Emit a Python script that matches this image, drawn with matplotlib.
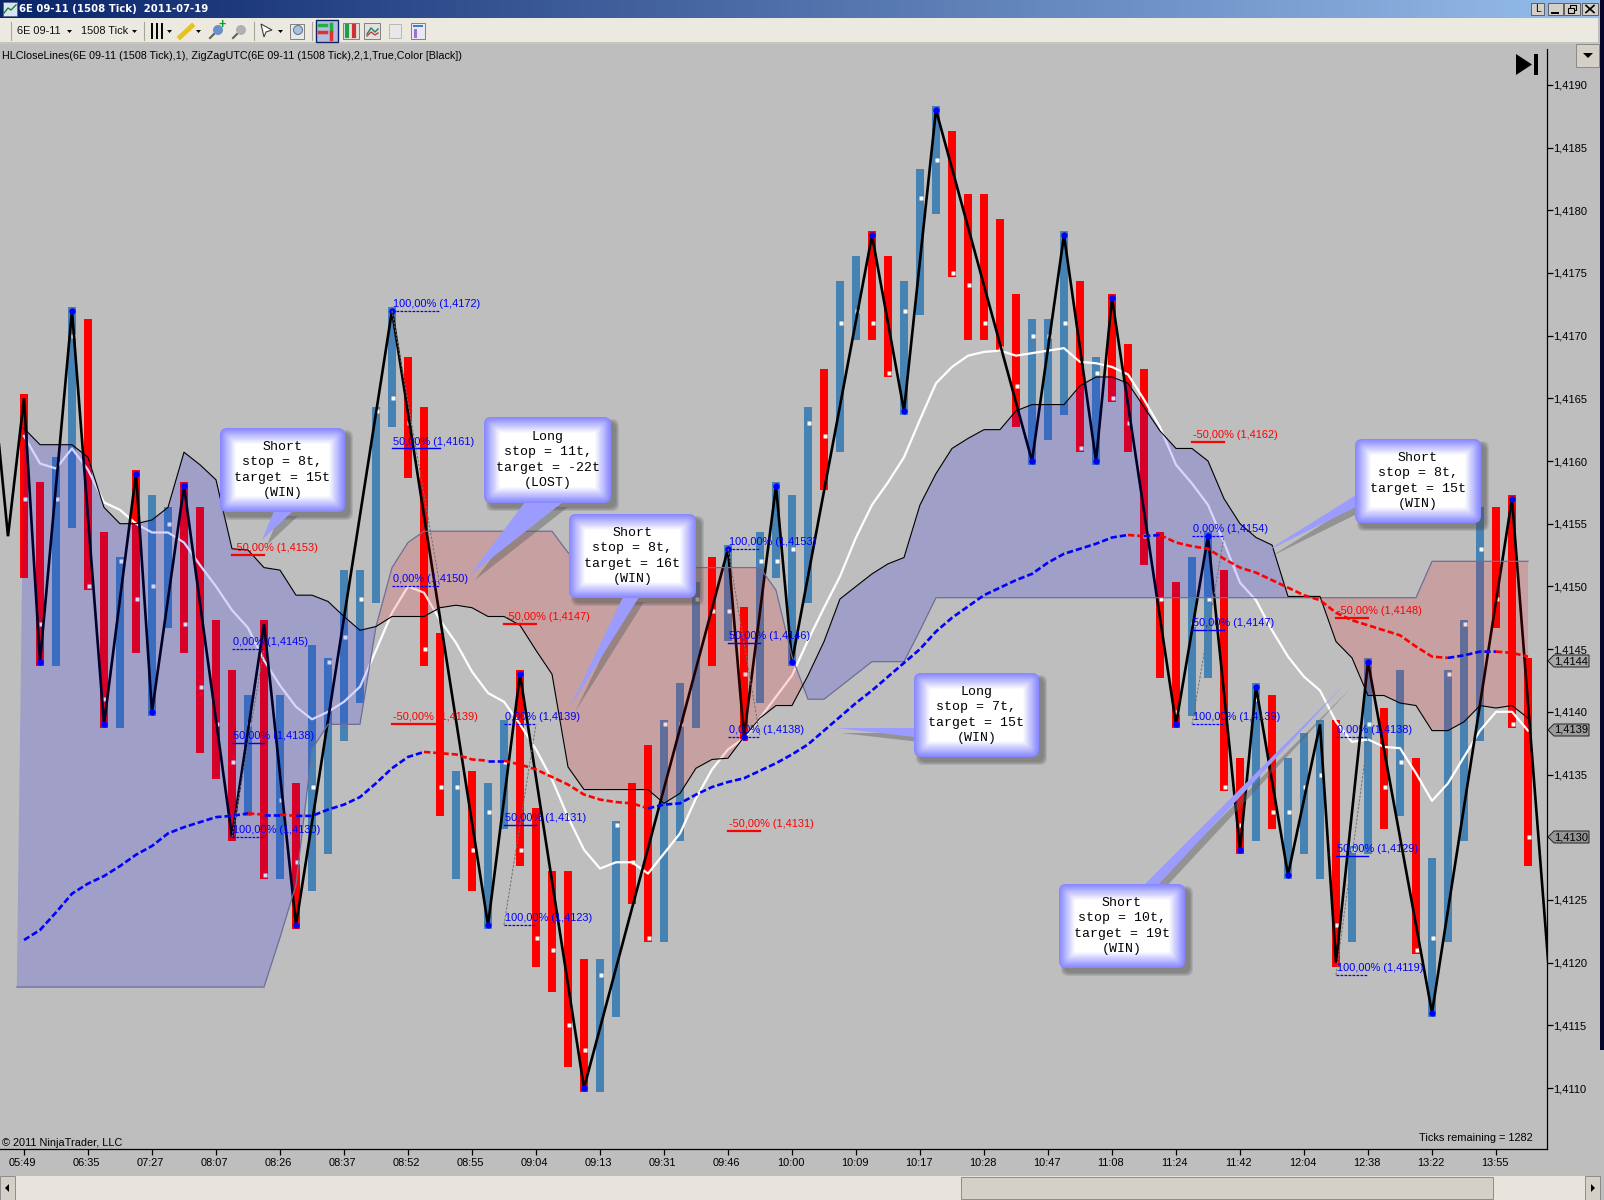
import numpy as np
import matplotlib
matplotlib.use('Agg')
import matplotlib.pyplot as plt
from matplotlib.patches import Circle, FancyBboxPatch, Polygon, Rectangle
from matplotlib.transforms import ScaledTranslation

# =========================================================
# DATA
# =========================================================
time_labels = ['05:49', '06:35', '07:27', '08:07', '08:26', '08:37', '08:52', '08:55',
               '09:04', '09:13', '09:31', '09:46', '10:00', '10:09', '10:17', '10:28',
               '10:47', '11:08', '11:24', '11:42', '12:04', '12:38', '13:22', '13:55']
price_ticks = [1.4110, 1.4115, 1.4120, 1.4125, 1.4130, 1.4135, 1.4140, 1.4145, 1.4150,
               1.4155, 1.4160, 1.4165, 1.4170, 1.4175, 1.4180, 1.4185, 1.4190]

bar_dir = list('rrbbrrbrbbrrrrbrbrbbbbbbrrrbrbbrrrrrbbrrbbbrbrbbbbrbbrrbbbrrrrrbbbrbrrrrrbbrrbrbbbrbbrbrbbbbrrr')
bar_high = [1.4165, 1.4158, 1.4160, 1.4172, 1.4171, 1.4154, 1.4152, 1.4159, 1.4157, 1.4156,
            1.4158, 1.4156, 1.4147, 1.4143, 1.4141, 1.4147, 1.4141, 1.4134, 1.4145, 1.4144,
            1.4151, 1.4151, 1.4164, 1.4172, 1.4168, 1.4164, 1.4146, 1.4135, 1.4135, 1.4134,
            1.4139, 1.4143, 1.4132, 1.4127, 1.4127, 1.4120, 1.4120, 1.4131, 1.4134, 1.4137,
            1.4139, 1.4142, 1.4150, 1.4152, 1.4153, 1.4148, 1.4154, 1.4158, 1.4157, 1.4164,
            1.4167, 1.4174, 1.4176, 1.4178, 1.4176, 1.4174, 1.4183, 1.4188, 1.4186, 1.4181,
            1.4181, 1.4179, 1.4173, 1.4171, 1.4171, 1.4178, 1.4174, 1.4168, 1.4173, 1.4169,
            1.4167, 1.4154, 1.4150, 1.4152, 1.4154, 1.4151, 1.4136, 1.4142, 1.4141, 1.4136,
            1.4138, 1.4139, 1.4139, 1.4129, 1.4144, 1.4140, 1.4143, 1.4136, 1.4128, 1.4143,
            1.4147, 1.4156, 1.4156, 1.4157, 1.4144]
bar_low = [1.4151, 1.4144, 1.4144, 1.4155, 1.4150, 1.4139, 1.4139, 1.4145, 1.4140, 1.4147,
           1.4145, 1.4137, 1.4135, 1.4130, 1.4132, 1.4127, 1.4127, 1.4123, 1.4126, 1.4129,
           1.4138, 1.4141, 1.4149, 1.4163, 1.4159, 1.4144, 1.4132, 1.4127, 1.4126, 1.4123,
           1.4131, 1.4128, 1.4120, 1.4118, 1.4112, 1.4110, 1.4110, 1.4116, 1.4125, 1.4122,
           1.4122, 1.4130, 1.4139, 1.4144, 1.4146, 1.4138, 1.4141, 1.4151, 1.4144, 1.4149,
           1.4158, 1.4161, 1.4170, 1.4170, 1.4167, 1.4164, 1.4172, 1.4180, 1.4175, 1.4170,
           1.4170, 1.4169, 1.4163, 1.4160, 1.4162, 1.4164, 1.4161, 1.4160, 1.4165, 1.4161,
           1.4152, 1.4143, 1.4139, 1.4140, 1.4143, 1.4134, 1.4129, 1.4130, 1.4131, 1.4127,
           1.4129, 1.4127, 1.4120, 1.4122, 1.4129, 1.4131, 1.4132, 1.4121, 1.4116, 1.4122,
           1.4130, 1.4138, 1.4147, 1.4139, 1.4128]
bar_close = [1.4157, 1.4147, 1.4157, 1.4170, 1.4150, 1.4141, 1.4152, 1.4149, 1.4150, 1.4155,
             1.4147, 1.4142, 1.4139, 1.4136, 1.4139, 1.4127, 1.4133, 1.4128, 1.4134, 1.4144,
             1.4146, 1.4149, 1.4164, 1.4165, 1.4163, 1.4145, 1.4134, 1.4134, 1.4129, 1.4132,
             1.4136, 1.4129, 1.4122, 1.4121, 1.4115, 1.4113, 1.4119, 1.4131, 1.4128, 1.4122,
             1.4139, 1.4139, 1.4149, 1.4148, 1.4148, 1.4143, 1.4152, 1.4152, 1.4153, 1.4163,
             1.4162, 1.4171, 1.4172, 1.4171, 1.4167, 1.4172, 1.4181, 1.4184, 1.4175, 1.4174,
             1.4171, 1.4169, 1.4166, 1.4170, 1.4170, 1.4171, 1.4161, 1.4167, 1.4165, 1.4163,
             1.4154, 1.4149, 1.4140, 1.4147, 1.4149, 1.4134, 1.4131, 1.4141, 1.4132, 1.4132,
             1.4134, 1.4135, 1.4123, 1.4129, 1.4139, 1.4134, 1.4136, 1.4121, 1.4122, 1.4143,
             1.4147, 1.4153, 1.4149, 1.4139, 1.4130]

# zigzag pivots: bar index and price
zig_idx = [-2, -1, 0, 1, 3, 5, 7, 8, 10, 13, 15, 17, 23, 29, 31, 35, 44, 45, 47, 48, 53, 55, 57,
           63, 65, 67, 68, 72, 74, 76, 77, 79, 81, 82, 84, 88, 93, 96]
zig_price = [1.4167, 1.4154, 1.4165, 1.4144, 1.4172, 1.4139, 1.4159, 1.4140, 1.4158, 1.4130,
             1.4147, 1.4123, 1.4172, 1.4123, 1.4143, 1.4110, 1.4153, 1.4138, 1.4158, 1.4144,
             1.4178, 1.4164, 1.4188, 1.4160, 1.4178, 1.4160, 1.4173, 1.4139, 1.4154, 1.4129,
             1.4142, 1.4127, 1.4139, 1.4120, 1.4144, 1.4116, 1.4157, 1.4108]
pivot_dots = [1, 3, 5, 7, 8, 10, 17, 23, 29, 31, 35, 44, 45, 47, 48, 53, 55, 57, 63, 65, 67, 68,
              72, 74, 76, 77, 79, 84, 88, 93]

# lines, in ticks above 1,4110
cloud_a = [52.6, 51.3, 51.3, 51.3, 50.3, 46.3, 45, 45, 45.3, 46.3, 50.7, 49.7, 48.5, 43, 42.9,
           41.5, 41.3, 39.3, 39.3, 38.8, 37.6, 36.5, 36.8, 37.6, 37.6, 37.6, 38.3, 38.5, 38.3,
           37.6, 37.6, 36.9, 34.9, 33, 25.6, 23.8, 23.8, 23.8, 23.8, 23.8, 22.7, 23.5, 25.5,
           26.2, 26.3, 28, 29.5, 30.5, 30.5, 32.9, 35.6, 39, 40, 41, 41.8, 42.3, 46.5, 49, 51,
           51.8, 52.5, 52.5, 54, 54.5, 54.5, 54.5, 56, 56.7, 56.7, 56.2, 54.3, 52.4, 51, 51,
           50, 47, 45, 43.9, 43.3, 39.2, 39.2, 39.2, 35.6, 34.3, 31.3, 31.3, 30.7, 30.5, 28.5,
           28.5, 29.2, 30.5, 30.3, 30.5, 29.5]
cloud_b = [8.05, 8.05, 8.05, 8.05, 8.05, 8.05, 8.05, 8.05, 8.05, 8.05, 8.05, 8.05, 8.05, 8.05,
           8.05, 8.05, 12, 16.2, 27, 29, 29, 29, 36.8, 41.5, 43.5, 44.4, 44.4, 44.4, 44.4, 44.4,
           44.4, 44.4, 44.4, 44.4, 42.7, 41.5, 41.5, 41.5, 41.5, 41.5, 41.5, 41.5, 41.5, 41.5,
           41.5, 41.5, 41.5, 39.7, 34.4, 31, 31, 32, 33, 34, 34, 34, 36.5, 39.1, 39.1, 39.1,
           39.1, 39.1, 39.1, 39.1, 39.1, 39.1, 39.1, 39.1, 39.1, 39.1, 39.1, 39.1, 39.1, 39.1,
           39.1, 39.1, 39.1, 39.1, 39.1, 39.1, 39.1, 39.1, 39.1, 39.1, 39.1, 39.1, 39.1, 39.1,
           42, 42, 42, 42, 42, 42, 42]
white_line = [52, 49.8, 49.4, 51, 49.3, 46.7, 46.1, 45, 44.3, 44.3, 43.5, 41.7, 40, 38.1, 36.7,
              34.1, 32.1, 30.4, 29.4, 30, 30.8, 32, 34.9, 37.9, 40, 39.5, 37.3, 35.5, 33.2, 31.5,
              30.8, 29, 27, 24.6, 21.6, 19, 17.5, 18, 18, 17.1, 18.7, 20.3, 23.1, 25.4, 27, 27.9,
              29.5, 31.2, 32.9, 35.7, 38.3, 40.8, 43.9, 46.5, 48.3, 50.3, 53.3, 56.2, 57.5, 58.4,
              58.7, 58.8, 58.4, 58.6, 58.8, 59, 57.9, 57.8, 57.5, 56.9, 54.9, 52.7, 49.7, 48.2,
              46.5, 43.5, 40.3, 38.9, 36.5, 34.4, 32.8, 31.7, 29.2, 27.6, 27.8, 27.2, 27.1, 25.1,
              22.9, 24.3, 26.4, 28.5, 30, 30, 28.5]
ma_line = [11.8, 12.6, 14, 15.5, 16.3, 16.9, 17.7, 18.6, 19.3, 20.3, 20.8, 21.2, 21.6, 21.7, 21.9,
           21.8, 21.8, 21.7, 21.7, 22.2, 22.6, 23.2, 24.3, 25.5, 26.4, 26.8, 26.7, 26.6, 26.2,
           26.1, 26.1, 25.8, 25.4, 24.8, 24.2, 23.4, 23, 22.8, 22.7, 22.3, 22.6, 22.7, 23.4, 24,
           24.4, 24.7, 25.3, 25.9, 26.6, 27.4, 28.5, 29.6, 30.7, 31.7, 32.8, 33.9, 35, 36.4, 37.5,
           38.4, 39.3, 39.9, 40.5, 41, 41.9, 42.6, 43, 43.4, 43.9, 44.1, 44, 44.1, 43.5, 43.2, 43,
           42.2, 41.5, 41.1, 40.5, 39.9, 39.3, 38.9, 37.9, 37.3, 36.9, 36.5, 36.1, 35.2, 34.4,
           34.3, 34.5, 34.8, 34.8, 34.7, 34.4]

# fib levels: name, printed price, real level, first bar, bars wide
fib_levels = [
    ('-50,00%', '1,4153', 1.41525, 13, 2), ('0,00%', '1,4145', 1.41450, 13, 2),
    ('50,00%', '1,4138', 1.41375, 13, 2), ('100,00%', '1,4130', 1.41300, 13, 2),
    ('100,00%', '1,4172', 1.41720, 23, 3), ('50,00%', '1,4161', 1.41610, 23, 3),
    ('0,00%', '1,4150', 1.41500, 23, 3), ('-50,00%', '1,4139', 1.41390, 23, 3),
    ('-50,00%', '1,4147', 1.41470, 30, 2), ('0,00%', '1,4139', 1.41390, 30, 2),
    ('50,00%', '1,4131', 1.41310, 30, 2), ('100,00%', '1,4123', 1.41230, 30, 2),
    ('100,00%', '1,4153', 1.41530, 44, 2), ('50,00%', '1,4146', 1.41455, 44, 2),
    ('0,00%', '1,4138', 1.41380, 44, 2), ('-50,00%', '1,4131', 1.41305, 44, 2),
    ('-50,00%', '1,4162', 1.41615, 73, 2), ('0,00%', '1,4154', 1.41540, 73, 2),
    ('50,00%', '1,4147', 1.41465, 73, 2), ('100,00%', '1,4139', 1.41390, 73, 2),
    ('-50,00%', '1,4148', 1.41475, 82, 2), ('0,00%', '1,4138', 1.41380, 82, 2),
    ('50,00%', '1,4129', 1.41285, 82, 2), ('100,00%', '1,4119', 1.41190, 82, 2),
]

callout_texts = ['Short\nstop = 8t,\ntarget = 15t\n(WIN)', 'Long\nstop = 11t,\ntarget = -22t\n(LOST)',
                 'Short\nstop = 8t,\ntarget = 16t\n(WIN)', 'Long\nstop = 7t,\ntarget = 15t\n(WIN)',
                 'Short\nstop = 8t,\ntarget = 15t\n(WIN)', 'Short\nstop = 10t,\ntarget = 19t\n(WIN)']

tag_labels = ['1,4144', '1,4139', '1,4130']

# =========================================================
# FIGURE
# =========================================================
W, H = 1604, 1200
BG = '#BEBEBE'
plt.rcParams['font.family'] = ['Liberation Sans', 'DejaVu Sans']

fig = plt.figure(figsize=(W / 100, H / 100), dpi=100, facecolor=BG)

AX_R, AX_T, AX_B = 1546.7, 44, 1149
PX_TICK = 12.54      # pixels per 0,0001
Y_1410 = 1088        # pixel row of 1,4110

ax = fig.add_axes([0, (H - AX_B) / H, AX_R / W, (AX_B - AX_T) / H], facecolor=BG)
ax.set_xlim(-24 / 16, (AX_R - 24) / 16)
ax.set_ylim(1.4110 - (AX_B - Y_1410) / PX_TICK / 1e4, 1.4110 + (Y_1410 - AX_T) / PX_TICK / 1e4)

idx = np.arange(len(bar_high))
BAR_LW = 8 * 0.72
colors = ['#4682B4' if d == 'b' else '#FF0000' for d in bar_dir]
ax.vlines(idx, bar_low, bar_high, colors=colors, linewidth=BAR_LW, capstyle='projecting', zorder=2)
ax.plot(idx + 0.06, bar_close, ls='none', marker='s', ms=3.2, mfc='white', mec='none', zorder=3)


def from_ticks(values):
    return 1.4110 + np.array(values) / 1e4


ax.plot(idx, from_ticks(white_line), color='white', lw=1.6, zorder=4)
ax.plot(zig_idx, zig_price, color='black', lw=1.9, zorder=5, solid_joinstyle='miter')

# cloud over the bars
cx = np.r_[-0.45, idx]
ca = from_ticks([cloud_b[0]] + cloud_a)
cb = from_ticks([cloud_b[0]] + cloud_b)
ax.fill_between(cx, ca, cb, where=ca >= cb, interpolate=True, color='#0000FF', alpha=0.16, lw=0, zorder=6)
ax.fill_between(cx, ca, cb, where=ca <= cb, interpolate=True, color='#FF0000', alpha=0.15, lw=0, zorder=6)
ax.plot(cx, cb, color='#6E6E96', lw=0.9, zorder=6.5)
ax.plot(idx, from_ticks(cloud_a), color='black', lw=0.8, zorder=6.5)

# moving average: blue rising, red falling
ma = from_ticks(ma_line)
seg_up = np.diff(ma) >= 0
start = 0
for k in range(1, len(seg_up) + 1):
    if k == len(seg_up) or seg_up[k] != seg_up[start]:
        ax.plot(idx[start:k + 1], ma[start:k + 1], color='#0000FF' if seg_up[start] else '#FF0000',
                lw=1.9, ls=(0, (2.4, 1.1)), zorder=7)
        start = k

# pivot dots
zig_lookup = dict(zip(zig_idx, zig_price))
ax.plot(pivot_dots, [zig_lookup[i] for i in pivot_dots], ls='none', marker='o', ms=4.6,
        mfc='#0000FF', mec='none', zorder=8)

# fib lines and labels
for name, shown, level, first, span in fib_levels:
    col = '#FF0000' if name.startswith('-') else '#0000FF'
    if name in ('0,00%', '100,00%'):
        ax.plot([first, first + span], [level, level], color=col, lw=0.9, ls=(0, (2.2, 1)), zorder=9)
    else:
        ax.plot([first, first + span], [level, level], color=col, lw=1.6 if col == '#FF0000' else 1.0, zorder=9)
    ax.annotate(f"{name} ({shown})", (first, level), xytext=(1, 5),
                textcoords='offset points', color=col, fontsize=7.9, va='center', ha='left', zorder=10)

for first_group in sorted(set(f[3] for f in fib_levels)):
    group = [f for f in fib_levels if f[3] == first_group]
    p100 = [f[2] for f in group if f[0] == '100,00%'][0]
    p0 = [f[2] for f in group if f[0] == '0,00%'][0]
    ax.plot([first_group, first_group + group[0][4]], [p100, p0], color='#707070', lw=0.7,
            ls=(0, (2.5, 1.5)), zorder=9)

ax.set_xticks(np.arange(len(time_labels)) * 4)
ax.set_xticklabels(time_labels, fontsize=7.9)
ax.set_yticks(price_ticks)
ax.set_yticklabels([f"{p:.4f}".replace('.', ',') for p in price_ticks], fontsize=8.0)
ax.yaxis.tick_right()
ax.tick_params(axis='x', length=4.3, width=0.9, pad=2.5)
ax.tick_params(axis='y', length=4.3, width=0.9, pad=0.3)
shift = ScaledTranslation(-1.5 / 100, 0, fig.dpi_scale_trans)
for lbl in ax.get_xticklabels():
    lbl.set_transform(lbl.get_transform() + shift)
for s in ('top', 'left'):
    ax.spines[s].set_visible(False)
for s in ('right', 'bottom'):
    ax.spines[s].set_linewidth(0.9)
ax.spines['right'].set_bounds(ax.get_ylim()[0], 1.4110 + (Y_1410 - 49) / PX_TICK / 1e4)

# =========================================================
# OVERLAY: WINDOW CHROME AND CALLOUTS (pixel coordinates)
# =========================================================
ov = fig.add_axes([0, 0, 1, 1], facecolor='none')
ov.axis('off')

# title bar
grad = np.linspace(0, 1, 256).reshape(1, -1)
c0, c1 = np.array([10, 36, 106]) / 255, np.array([150, 190, 235]) / 255
img = (c0[None, None, :] * (1 - grad[..., None]) + c1[None, None, :] * grad[..., None])
ov.imshow(img, extent=(0, 1600, 18, 0), aspect='auto', zorder=1)
ov.set_xlim(0, W)
ov.set_ylim(H, 0)
ov.add_patch(Rectangle((0, 18), 1598, 26, fc='#ECE9E0', ec='none', zorder=1))
ov.add_patch(Rectangle((0, 42), 1598, 2, fc='#C8C6BC', ec='none', zorder=1))
ov.add_patch(Rectangle((3, 2), 14, 14, fc='#D8E4F4', ec='#506080', lw=0.5, zorder=2))
ov.plot([4, 8, 11, 16], [13, 8, 10, 5], color='#208030', lw=1, zorder=3)
ov.text(19, 9.5, '6E 09-11 (1508 Tick)  2011-07-19', color='white', fontsize=7.3, fontweight='bold',
        family='DejaVu Sans', va='center', ha='left', zorder=3)
for bx, bw in ((1531, 13), (1548, 15), (1564, 16), (1582, 16)):
    ov.add_patch(Rectangle((bx, 3), bw, 12, fc='#D4D0C8', ec='#505050', lw=0.6, zorder=2))
ov.text(1537.5, 9.5, 'L', fontsize=7.5, ha='center', va='center', color='black', zorder=3)
ov.plot([1552, 1558], [12.5, 12.5], color='black', lw=1.4, zorder=3)
ov.add_patch(Rectangle((1570, 5), 6, 5, fc='none', ec='black', lw=0.8, zorder=3))
ov.add_patch(Rectangle((1568, 8), 6, 5, fc='#D4D0C8', ec='black', lw=0.8, zorder=3))
ov.plot([1586, 1594], [5.5, 12.5], color='black', lw=1.2, zorder=3)
ov.plot([1586, 1594], [12.5, 5.5], color='black', lw=1.2, zorder=3)

# toolbar
ov.text(17, 31, '6E 09-11', fontsize=7.9, va='center', color='#101010', zorder=3)
ov.text(81, 31, '1508 Tick', fontsize=7.9, va='center', color='#101010', zorder=3)
for tx in (67, 132, 167, 196, 278):
    ov.add_patch(Polygon([[tx, 30], [tx + 5, 30], [tx + 2.5, 33]], fc='black', ec='none', zorder=3))
for tx in (11, 144, 254, 312):
    ov.plot([tx, tx], [22, 40], color='#A8A698', lw=0.8, zorder=3)
for tx in (152, 157, 162):
    ov.plot([tx, tx], [24, 38], color='black', lw=1.4, zorder=3)
ov.plot([180, 192], [37, 26], color='#E8C020', lw=3.5, zorder=3)
for tx, col in ((210, '#6C90C8'), (233, '#B0B0B0')):
    ov.plot([tx, tx + 5], [38, 33], color='#606060', lw=1.5, zorder=3)
    ov.add_patch(Circle((tx + 8, 30), 5, fc=col, ec='none', zorder=3))
ov.text(222, 25, '+', color='#00A020', fontsize=9, fontweight='bold', ha='center', va='center', zorder=4)
ov.add_patch(Polygon([[261, 24], [272, 30], [266, 32], [264, 37]], fc='white', ec='#404040', lw=0.8, zorder=3))
ov.add_patch(Rectangle((290, 24), 14, 15, fc='#E8E8E8', ec='#808080', lw=0.7, zorder=3))
ov.add_patch(Circle((298, 30), 4.5, fc='#A8C0E0', ec='#607090', lw=0.7, zorder=4))
ov.add_patch(Rectangle((316, 20), 22, 22, fc='#B4BEDC', ec='#0A246A', lw=1, zorder=2))
ov.add_patch(Rectangle((343, 23), 16, 16, fc='#E0E0E0', ec='#808080', lw=0.7, zorder=2))
ov.add_patch(Rectangle((364, 23), 16, 16, fc='#E0E0E0', ec='#808080', lw=0.7, zorder=2))
ov.add_patch(Rectangle((389, 24), 12, 14, fc='#E8E8E8', ec='#B8B8B8', lw=0.7, zorder=2))
ov.add_patch(Rectangle((411, 23), 14, 16, fc='#E8E8F4', ec='#808080', lw=0.7, zorder=2))
ov.add_patch(Rectangle((414, 29), 3, 9, fc='#A070D0', ec='none', zorder=3))
ov.add_patch(Rectangle((413, 25), 10, 2, fc='#4080C0', ec='none', zorder=3))
ov.plot([319, 326], [25, 25], color='#20B040', lw=2.5, zorder=3)
ov.plot([319, 326], [32, 32], color='#E03030', lw=2.5, zorder=3)
ov.plot([331, 331], [24, 32], color='#20B040', lw=2.5, zorder=3)
ov.plot([331, 331], [32, 39], color='#E03030', lw=2.5, zorder=3)
ov.plot([347, 347], [26, 36], color='#20A040', lw=3, zorder=3)
ov.plot([354, 354], [26, 36], color='#D03030', lw=3, zorder=3)
ov.plot([367, 371, 375, 378], [34, 28, 32, 29], color='#208060', lw=1, zorder=3)
ov.plot([367, 371, 375, 378], [36, 32, 35, 33], color='#C04040', lw=1, zorder=3)

ov.text(2, 56, 'HLCloseLines(6E 09-11 (1508 Tick),1), ZigZagUTC(6E 09-11 (1508 Tick),2,1,True,Color [Black])',
        fontsize=7.78, va='center', color='black', zorder=3)
ov.text(2, 1143, '\u00a9 2011 NinjaTrader, LLC', fontsize=7.9, va='center', color='black', zorder=3)
ov.text(1419, 1138, 'Ticks remaining = 1282', fontsize=7.9, va='center', color='black', zorder=3)

# top right chart controls
ov.add_patch(Polygon([[1516, 54], [1532, 64.5], [1516, 75]], fc='black', ec='none', zorder=3))
ov.add_patch(Rectangle((1534, 54), 3.5, 21, fc='black', ec='none', zorder=3))
ov.add_patch(Rectangle((1576, 44), 23, 23, fc='#D4D0C8', ec='#808080', lw=0.6, zorder=3))
ov.add_patch(Polygon([[1583, 53], [1593, 53], [1588, 58]], fc='black', ec='none', zorder=4))
ov.add_patch(Rectangle((1600, 0), 4, 1050, fc='#06062A', ec='none', zorder=2))

# scrollbar
ov.add_patch(Rectangle((0, 1176), 1600, 24, fc='#E6E4DC', ec='none', zorder=2))
ov.add_patch(Rectangle((961, 1177), 532, 22, fc='#D4D0C8', ec='#808080', lw=0.6, zorder=3))
ov.add_patch(Rectangle((0, 1176), 15, 24, fc='#D4D0C8', ec='#808080', lw=0.6, zorder=3))
ov.add_patch(Rectangle((1585, 1176), 15, 24, fc='#D4D0C8', ec='#808080', lw=0.6, zorder=3))
ov.add_patch(Polygon([[5, 1188], [9, 1184], [9, 1192]], fc='black', ec='none', zorder=4))
ov.add_patch(Polygon([[1595, 1188], [1591, 1184], [1591, 1192]], fc='black', ec='none', zorder=4))

# price tags
for label, ty, tc in zip(tag_labels, [661, 730, 837], ['#A8A8A8', '#9C9C9C', '#969696']):
    ov.add_patch(Polygon([[1548, ty], [1554, ty - 6], [1589, ty - 6], [1589, ty + 6], [1554, ty + 6]],
                         fc=tc, ec='#202020', lw=0.7, zorder=4))
    ov.text(1571, ty, label, fontsize=8.0, ha='center', va='center', color='black', zorder=5)


def callout(x0, y0, x1, y1, tail, text):
    # tail shadow, box shadow, tail, gradient box, text
    shadow_tail = np.array(tail) + [5, 5]
    ov.add_patch(Polygon(shadow_tail, fc='#606060', ec='none', alpha=0.45, zorder=20))
    for k in range(4):
        ov.add_patch(FancyBboxPatch((x0 + 5 - k, y0 + 5 - k), x1 - x0 + 2 * k, y1 - y0 + 2 * k,
                                    boxstyle='round,pad=0,rounding_size=7', fc='#505050', ec='none',
                                    alpha=0.16, zorder=20))
    ov.add_patch(Polygon(tail, fc='#9C9CFF', ec='none', zorder=21))
    steps = 14
    for k in range(steps):
        f = k / (steps - 1)
        col = np.array([136, 136, 255]) / 255 * (1 - f) + np.array([1, 1, 1]) * f
        ins = k * 1.2
        ov.add_patch(FancyBboxPatch((x0 + ins, y0 + ins), x1 - x0 - 2 * ins, y1 - y0 - 2 * ins,
                                    boxstyle=f'round,pad=0,rounding_size={max(7 - ins / 2, 2)}',
                                    fc=col, ec='none', zorder=22))
    ov.text((x0 + x1) / 2, (y0 + y1) / 2, text, family='Liberation Mono', fontsize=9.5, ha='center',
            va='center', linespacing=1.37, color='black', zorder=23)


callout(220, 428, 345, 512, [[274, 511], [293, 511], [262, 540]], callout_texts[0])
callout(484, 417, 611, 503, [[525, 502], [563, 502], [470, 575]], callout_texts[1])
callout(569, 514, 696, 598, [[623, 597], [639, 597], [570, 707]], callout_texts[2])
callout(914, 673, 1039, 757, [[915, 728], [915, 737], [836, 728]], callout_texts[3])
callout(1355, 439, 1481, 523, [[1356, 495], [1356, 507], [1265, 552]], callout_texts[4])
callout(1059, 884, 1185, 968, [[1144, 885], [1158, 885], [1346, 683]], callout_texts[5])

fig.savefig('out.png', dpi=100, facecolor=BG)
